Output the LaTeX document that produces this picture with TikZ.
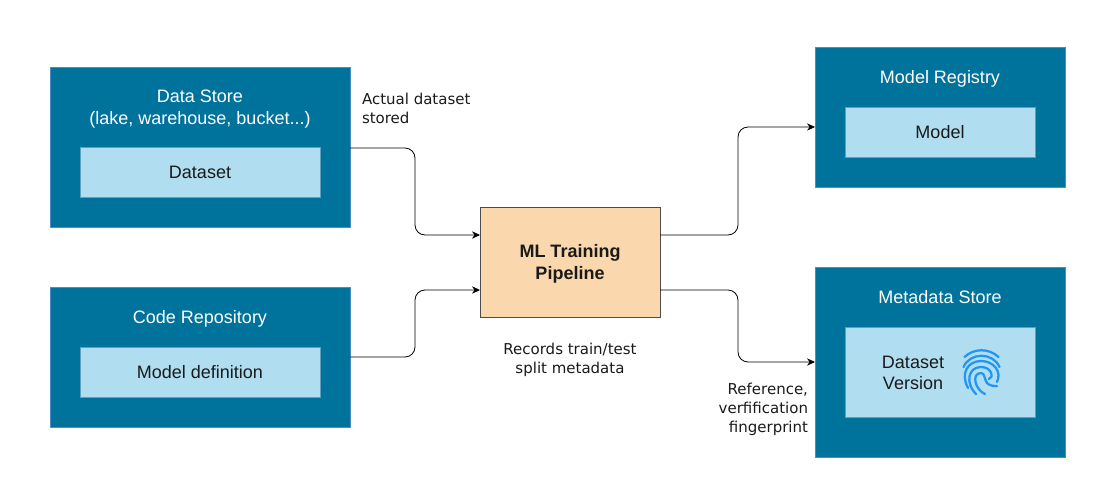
\documentclass[tikz,border=0pt]{standalone}
\usepackage{fontspec}
\setmainfont{Liberation Sans}
\newfontfamily\notefont{DejaVu Sans}
\usetikzlibrary{arrows.meta}
\definecolor{outerblue}{HTML}{00739D}
\definecolor{innerblue}{HTML}{B1DDF0}
\definecolor{innerline}{HTML}{5F9FC0}
\definecolor{peach}{HTML}{FAD7AC}
\definecolor{inktext}{HTML}{1A1A1A}
\definecolor{printblue}{HTML}{2196F3}
\tikzset{
  every node/.style={inner sep=0pt, outer sep=0pt, align=center},
  outerbox/.style={fill=outerblue, draw=outerblue!80!blue!70, line width=0.5pt, text=white, anchor=north west},
  innerbox/.style={fill=innerblue, draw=innerline, line width=0.5pt, text=inktext, anchor=north west, font=\fontsize{13.5}{16}\selectfont},
  trainbox/.style={fill=peach, draw=black!70, line width=0.6pt, anchor=north west, font=\fontsize{13.5}{16.5}\selectfont\bfseries, text=inktext},
  titletext/.style={text=white, font=\fontsize{13.5}{16.5}\selectfont},
  notetext/.style={text=inktext, font=\notefont\fontsize{11.25}{14.4}\selectfont},
  link/.style={draw=black, line width=0.6pt, rounded corners=7.5pt, -{Stealth[length=6pt,width=5.5pt]}},
  printline/.style={draw=printblue, line width=1.7pt, line cap=round}
}
\begin{document}
\begin{tikzpicture}[x=0.75pt,y=-0.75pt]
\useasboundingbox (0,0) rectangle (1110,500);
\node[outerbox, minimum width=225pt, minimum height=120pt] (store) at (50,67) {};
\node[innerbox, minimum width=180pt, minimum height=37.5pt] (dataset) at (80,147) {Dataset};
\node[titletext] (storetitle) at (200,109) {Data Store\\(lake, warehouse, bucket...)};
\node[outerbox, minimum width=225pt, minimum height=105pt] (code) at (50,287) {};
\node[innerbox, minimum width=180pt, minimum height=37.5pt] (modeldef) at (80,347) {Model definition};
\node[titletext] (codetitle) at (200,319) {Code Repository};
\node[trainbox, minimum width=135pt, minimum height=82.5pt] (train) at (480,207) {\rule{0pt}{12.7pt}ML Training\\Pipeline};
\node[outerbox, minimum width=187.5pt, minimum height=105pt] (registry) at (815,47) {};
\node[innerbox, minimum width=142.5pt, minimum height=37.5pt] (model) at (845,107) {Model};
\node[titletext] (registrytitle) at (940,79) {Model Registry};
\node[outerbox, minimum width=187.5pt, minimum height=142.5pt] (meta) at (815,267) {};
\node[innerbox, minimum width=142.5pt, minimum height=67.5pt] (version) at (845,327) {};
\node[titletext] (metatitle) at (940,297.5) {Metadata Store};
\node[text=inktext, font=\fontsize{13.5}{16}\selectfont] (versiontext) at (913,373) {Dataset\\Version};
\node[notetext, align=left, anchor=north west] (note1) at (362,93) {Actual dataset\\stored};
\node[notetext] (note2) at (570,360) {Records train/test\\split metadata};
\node[notetext, align=right, anchor=north east] (note3) at (808,383) {Reference,\\verfification\\fingerprint};
\coordinate (trainin1) at (480,235);
\coordinate (trainin2) at (480,290);
\coordinate (trainout1) at (660,235);
\coordinate (trainout2) at (660,290);
\coordinate (storeout) at (350,148);
\coordinate (codeout) at (350,357);
\coordinate (registryin) at (815,127);
\coordinate (metain) at (815,362);
\draw[link] (storeout) -| (415,190) |- (trainin1);
\draw[link] (codeout) -| (415,320) |- (trainin2);
\draw[link] (trainout1) -| (738,180) |- (registryin);
\draw[link] (trainout2) -| (738,330) |- (metain);
% fingerprint icon
\draw[printline] (964.5,357) .. controls (974,348) and (989,348) .. (998.5,357);
\draw[printline] (963.5,367) .. controls (970,352) and (993,352) .. (999.5,367);
\draw[printline] (968,388) .. controls (960,373) and (968,361) .. (981,361) .. controls (994,361) and (1002,372) .. (997,382);
\draw[printline] (976,394) .. controls (965,383) and (968,367) .. (981,367) .. controls (992,367) and (994,378) .. (989,379);
\draw[printline] (985,394) .. controls (975,390) and (971,373) .. (981,373) .. controls (985,373) and (984,379) .. (987,383) .. controls (990,386) and (994,386) .. (997,386);
\end{tikzpicture}
\end{document}
